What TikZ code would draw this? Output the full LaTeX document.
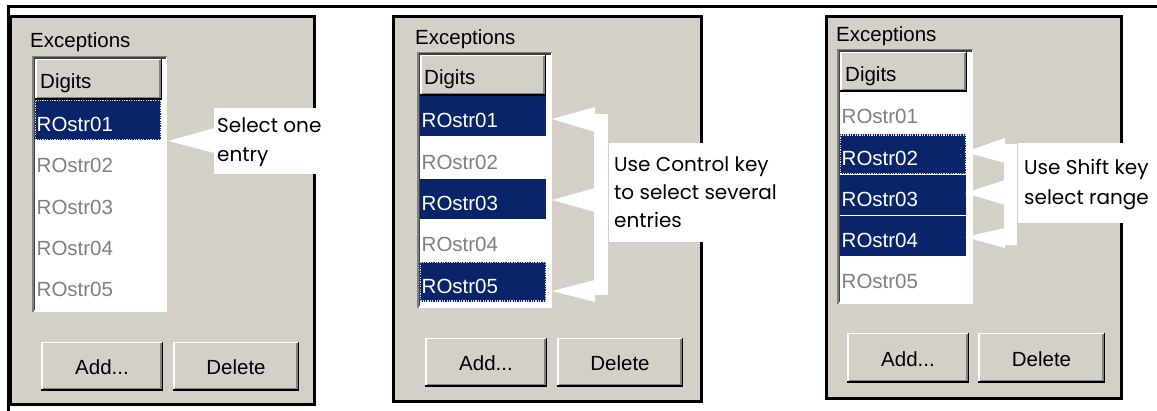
\documentclass[tikz,border=0pt]{standalone}
\usepackage{fontspec}
\setmainfont{Liberation Sans}
\newfontfamily\callfont{Poppins}
\definecolor{uigray}{HTML}{D4D0C8}
\definecolor{selnavy}{HTML}{0A246A}
\definecolor{txtgray}{HTML}{808080}
\definecolor{shadowgray}{HTML}{808080}
\definecolor{darkedge}{HTML}{404040}

% raised 3D button: name, x0, y0, x1, y1, caption
\newcommand{\uibutton}[6]{%
  \fill[uigray] (#2,#3) rectangle (#4,#5);
  \draw[white,line width=1.5pt] (#2+0.75,#5-1.5) -- (#2+0.75,#3+0.75) -- (#4-1.5,#3+0.75);
  \draw[black,line width=1.5pt] (#2,#5-0.75) -- (#4-0.75,#5-0.75) -- (#4-0.75,#3);
  \draw[shadowgray,line width=1.5pt] (#2+1.5,#5-2.25) -- (#4-2.25,#5-2.25) -- (#4-2.25,#3+1.5);
  \node[uitxt] (#1) at ({(#2+#4)/2},{(#3+#5)/2+1}) {#6};}

% sunken list box: x0, y0, x1, y1
\newcommand{\uilist}[4]{%
  \fill[white] (#1,#2) rectangle (#3,#4);
  \draw[shadowgray,line width=1.5pt] (#1+0.75,#4) -- (#1+0.75,#2+0.75) -- (#3,#2+0.75);
  \draw[darkedge,line width=1.5pt] (#1+2.25,#4-1.5) -- (#1+2.25,#2+2.25) -- (#3-1.5,#2+2.25);}

% list rows: name, x, y (row top), text
\newcommand{\plainrow}[4]{%
  \node[rowtxt,text=txtgray] (#1) at (#2+1.5,#3+31.5) {#4};}
\newcommand{\selrow}[4]{%
  \fill[selnavy] (#2,#3) rectangle ++(126,40);
  \node[rowtxt,text=white] (#1) at (#2+1.5,#3+31.5) {#4};}
\newcommand{\focusrow}[4]{%
  \selrow{#1}{#2}{#3}{#4}
  \draw[focusdots] (#2+0.6,#3+0.6) rectangle ++(124.8,38.8);}

% white callout pointer: tip, base top, base bottom
\newcommand{\pointer}[3]{\fill[white] #1 -- #2 -- #3 -- cycle;}

\begin{document}
\begin{tikzpicture}[x=1pt,y=-1pt,
  panelbox/.style={fill=uigray,draw=black,line width=3pt},
  uitxt/.style={inner sep=0pt,font=\fontsize{20.5}{20.5}\selectfont,text=black},
  rowtxt/.style={anchor=base west,inner sep=0pt,font=\fontsize{20.5}{20.5}\selectfont},
  lbl/.style={anchor=base west,inner sep=0pt,font=\fontsize{20.5}{20.5}\selectfont,text=black},
  calltxt/.style={anchor=base west,inner sep=0pt,font=\callfont\fontsize{20}{20}\selectfont,text=black},
  callbox/.style={fill=white,draw=none},
  focusdots/.style={draw=white!85!selnavy,line width=1.2pt,dash pattern=on 1.2pt off 1.2pt}]
\useasboundingbox (0,0) rectangle (1157,411);
\fill[white] (0,0) rectangle (1157,411);

% outer figure frame
\draw[line width=2.6pt] (8.5,411) -- (8.5,6.3) -- (1157,6.3);

% ---------- first dialog: single selection ----------
\draw[panelbox] (10,16.5) rectangle (314,405);
\node[lbl] (exA) at (30,48) {Exceptions};
\uilist{32}{56}{167}{312}
\uibutton{hdA}{35}{59}{162}{100}{}
\node[lbl] (digA) at (40,89) {Digits};
\focusrow{a1}{35}{100}{ROstr01}
\plainrow{a2}{35}{141.3}{ROstr02}
\plainrow{a3}{35}{182.6}{ROstr03}
\plainrow{a4}{35}{223.9}{ROstr04}
\plainrow{a5}{35}{265.2}{ROstr05}
\uibutton{addA}{41}{342}{163}{391}{Add...}
\uibutton{delA}{173}{342}{299}{391}{Delete}

% ---------- second dialog: control-key selection ----------
\draw[panelbox] (393.5,16.5) rectangle (701,402);
\node[lbl] (exB) at (415,45) {Exceptions};
\uilist{417}{52}{552}{308}
\uibutton{hdB}{420}{55}{546}{96}{}
\node[lbl] (digB) at (424,85) {Digits};
\selrow{b1}{420}{96.5}{ROstr01}
\plainrow{b2}{420}{137.8}{ROstr02}
\selrow{b3}{420}{179.1}{ROstr03}
\plainrow{b4}{420}{220.4}{ROstr04}
\focusrow{b5}{420}{261.7}{ROstr05}
\uibutton{addB}{425}{338}{547}{387}{Add...}
\uibutton{delB}{557}{338}{683}{387}{Delete}

% ---------- third dialog: shift-key range ----------
\draw[panelbox] (826.5,16.5) rectangle (1121,399);
\node[lbl] (exC) at (836,42) {Exceptions};
\uilist{837}{49}{973}{304}
\uibutton{hdC}{840}{52}{967}{92}{}
\node[lbl] (digC) at (845,82) {Digits};
\plainrow{c1}{840}{92.5}{ROstr01}
\focusrow{c2}{840}{134.5}{ROstr02}
\selrow{c3}{840}{175.5}{ROstr03}
\selrow{c4}{840}{216.5}{ROstr04}
\plainrow{c5}{840}{257.5}{ROstr05}
\uibutton{addC}{847}{333}{969}{383}{Add...}
\uibutton{delC}{978}{333}{1105}{383}{Delete}

% ---------- callout: single entry ----------
\fill[callbox] (214,108) rectangle (317,174);
\node[calltxt] (cA1) at (217,133) {Select one};
\node[calltxt] (cA2) at (217,162) {entry};
\coordinate (tipA) at (168,141);
\pointer{(tipA)}{(214.5,128)}{(214.5,153)}

% ---------- callout: several entries ----------
\fill[callbox] (609,143) rectangle (776,242);
\node[calltxt] (cB1) at (614,172) {Use Control key};
\node[calltxt] (cB2) at (614,200) {to select several};
\node[calltxt] (cB3) at (614,228) {entries};
\fill[white] (594,114) rectangle (608,295);
\coordinate (tipB1) at (552,119);
\coordinate (tipB3) at (552,200);
\coordinate (tipB5) at (552,291);
\pointer{(tipB1)}{(595,107)}{(595,132)}
\pointer{(tipB3)}{(595,188)}{(595,212)}
\pointer{(tipB5)}{(595,280)}{(595,302)}

% ---------- callout: range ----------
\fill[callbox] (1018,143) rectangle (1157,223);
\node[calltxt] (cC1) at (1024,175) {Use Shift key};
\node[calltxt] (cC2) at (1024,205) {select range};
\fill[white] (1004,144) rectangle (1017,245);
\coordinate (tipC2) at (965,152);
\coordinate (tipC3) at (965,193);
\coordinate (tipC4) at (965,237);
\pointer{(tipC2)}{(1005,138)}{(1005,163)}
\pointer{(tipC3)}{(1005,180)}{(1005,205)}
\pointer{(tipC4)}{(1005,228)}{(1005,248)}
\end{tikzpicture}
\end{document}
